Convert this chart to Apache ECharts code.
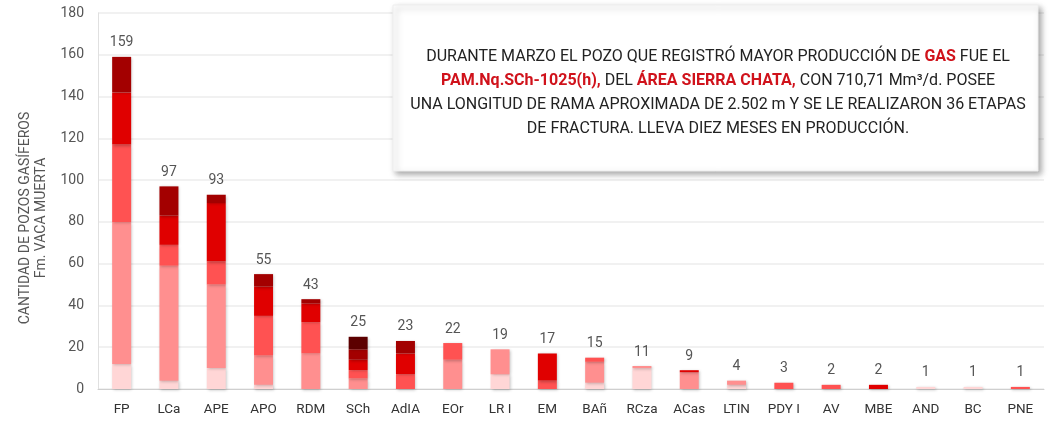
<!DOCTYPE html>
<html>
<head>
<meta charset="utf-8">
<script src="https://cdn.jsdelivr.net/npm/echarts@6/dist/echarts.min.js"></script>
<style>
  html, body { margin: 0; padding: 0; background: #fff; }
  #chart { width: 1052px; height: 423px; }
</style>
</head>
<body>
<div id="chart"></div>
<script>
// categorías (áreas)
var categorias = ['FP', 'LCa', 'APE', 'APO', 'RDM', 'SCh', 'AdIA', 'EOr', 'LR I', 'EM', 'BAñ', 'RCza', 'ACas', 'LTIN', 'PDY I', 'AV', 'MBE', 'AND', 'BC', 'PNE'];
// tramos apilados, de abajo hacia arriba
var tramo1 = [12, 4, 10, 2, 0, 0, 0, 0, 7, 0, 3, 10, 0, 2, 0, 0, 0, 1, 1, 0];
var tramo2 = [68, 55, 40, 14, 17, 5, 0, 14, 12, 0, 10, 1, 8, 2, 0, 0, 0, 0, 0, 0];
var tramo3 = [37, 10, 11, 19, 15, 4, 7, 8, 0, 4, 2, 0, 0, 0, 3, 2, 0, 0, 0, 1];
var tramo4 = [25, 14, 28, 14, 9, 5, 10, 0, 0, 13, 0, 0, 1, 0, 0, 0, 2, 0, 0, 0];
var tramo5 = [17, 14, 4, 6, 2, 5, 6, 0, 0, 0, 0, 0, 0, 0, 0, 0, 0, 0, 0, 0];
var tramo6 = [0, 0, 0, 0, 0, 6, 0, 0, 0, 0, 0, 0, 0, 0, 0, 0, 0, 0, 0, 0];
var colores = ['#ffd6d6', '#ff8f8f', '#ff5252', '#e00000', '#a30000', '#5c0000'];

var tramos = [tramo1, tramo2, tramo3, tramo4, tramo5, tramo6];
var totales = categorias.map(function (c, i) {
    return tramos.reduce(function (s, t) { return s + t[i]; }, 0);
});

var chart = echarts.init(document.getElementById('chart'));

var series = tramos.map(function (t, k) {
    return {
        name: 'Tramo ' + (k + 1),
        type: 'bar',
        stack: 'total',
        barWidth: 19,
        data: t,
        itemStyle: {
            color: colores[k],
            shadowColor: 'rgba(0,0,0,0.25)',
            shadowBlur: 3,
            shadowOffsetX: 1,
            shadowOffsetY: 1
        }
    };
});
// serie vacía arriba de la pila para mostrar el total
series.push({
    name: 'Total',
    type: 'bar',
    stack: 'total',
    barWidth: 19,
    data: categorias.map(function () { return 0; }),
    itemStyle: { color: 'transparent' },
    label: {
        show: true,
        position: 'top',
        distance: 7,
        fontFamily: 'Roboto',
        fontSize: 14,
        color: '#555',
        formatter: function (p) { return totales[p.dataIndex]; }
    }
});

var option = {
    animation: false,
    textStyle: { fontFamily: 'Roboto' },
    grid: { left: 98, right: 8, top: 13, bottom: 34 },
    xAxis: {
        type: 'category',
        data: categorias,
        axisTick: { show: false },
        axisLine: { lineStyle: { color: '#cfcfcf' } },
        axisLabel: { color: '#333', fontSize: 13.5, margin: 14 }
    },
    yAxis: {
        type: 'value',
        min: 0,
        max: 180,
        interval: 20,
        name: 'CANTIDAD DE POZOS GASÍFEROS\nFm. VACA MUERTA',
        nameLocation: 'middle',
        nameGap: 43,
        nameTextStyle: { color: '#555', fontSize: 14, lineHeight: 16, padding: [0, 34, 0, 0] },
        axisLine: { show: true, lineStyle: { color: '#e0e0e0' } },
        axisTick: { show: false },
        axisLabel: { color: '#555', fontSize: 14, margin: 14 },
        splitLine: { lineStyle: { color: '#ececec', width: 1.5 } }
    },
    graphic: [
        {
            type: 'rect',
            x: 393,
            y: 5,
            shape: { width: 645, height: 166 },
            style: {
                fill: '#fff',
                stroke: '#eeeeee',
                shadowColor: 'rgba(0,0,0,0.35)',
                shadowBlur: 6,
                shadowOffsetX: 3,
                shadowOffsetY: 3
            },
            z: 100
        },
        {
            type: 'text',
            x: 718,
            y: 45,
            z: 101,
            style: {
                text: 'DURANTE MARZO EL POZO QUE REGISTRÓ MAYOR PRODUCCIÓN DE {r|GAS} FUE EL\n' +
                      '{r|PAM.Nq.SCh-1025(h),} DEL {r|ÁREA SIERRA CHATA,} CON 710,71 Mm³/d. POSEE\n' +
                      'UNA LONGITUD DE RAMA APROXIMADA DE 2.502 m Y SE LE REALIZARON 36 ETAPAS\n' +
                      'DE FRACTURA. LLEVA DIEZ MESES EN PRODUCCIÓN.',
                align: 'center',
                verticalAlign: 'top',
                fontFamily: 'Roboto',
                fontSize: 16,
                lineHeight: 24,
                fill: '#222',
                rich: {
                    r: { fill: '#d0121b', fontSize: 16, lineHeight: 24, fontWeight: 'bold', fontFamily: 'Roboto' }
                }
            }
        }
    ],
    series: series
};
chart.setOption(option);
</script>
</body>
</html>
